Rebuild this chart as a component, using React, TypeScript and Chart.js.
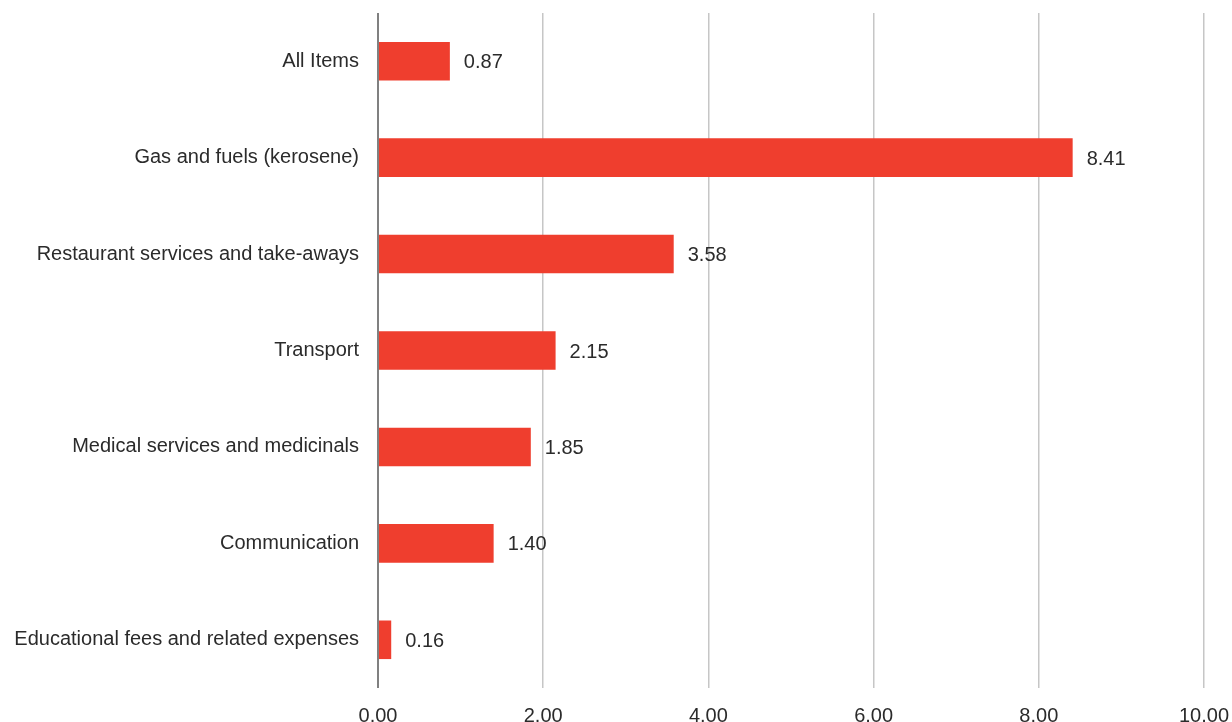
import React, { useEffect, useRef } from "react";
import { Chart, registerables } from "chart.js";

Chart.register(...registerables);

const categories = [
  "All Items",
  "Gas and fuels (kerosene)",
  "Restaurant services and take-aways",
  "Transport",
  "Medical services and medicinals",
  "Communication",
  "Educational fees and related expenses",
];
const values = [0.87, 8.41, 3.58, 2.15, 1.85, 1.4, 0.16];
const xTicks = [0, 2, 4, 6, 8, 10];

const FONT = "'Liberation Sans', Arial, sans-serif";

const valueLabels = {
  id: "valueLabels",
  afterDatasetsDraw(chart: any) {
    const ctx = chart.ctx;
    const meta = chart.getDatasetMeta(0);
    ctx.save();
    ctx.font = `20px ${FONT}`;
    ctx.fillStyle = "#2b2b2b";
    ctx.textAlign = "left";
    ctx.textBaseline = "middle";
    meta.data.forEach((bar: any, i: number) => {
      ctx.fillText(values[i].toFixed(2), bar.x + 14, bar.y + 1.5);
    });
    ctx.restore();
  },
};

export default function App() {
  const ref = useRef<HTMLCanvasElement>(null);
  useEffect(() => {
    const chart = new Chart(ref.current!, {
      type: "bar",
      data: {
        labels: categories,
        datasets: [
          {
            data: values,
            backgroundColor: "#EF3E2E",
            barPercentage: 0.8,
            categoryPercentage: 0.5,
          },
        ],
      },
      options: {
        indexAxis: "y",
        animation: false,
        responsive: true,
        maintainAspectRatio: false,
        layout: { padding: { top: 13, right: 28, left: 0, bottom: 0 } },
        plugins: { legend: { display: false }, tooltip: { enabled: false } },
        scales: {
          x: {
            min: 0,
            max: 10,
            afterBuildTicks: (axis: any) => {
              axis.ticks = xTicks.map((v) => ({ value: v }));
            },
            afterFit: (axis: any) => {
              axis.height = 34;
              axis.paddingLeft = 0;
              axis.paddingRight = 0;
            },
            border: { display: false },
            grid: {
              drawTicks: false,
              color: (c: any) => (c.tick && c.tick.value === 0 ? "#808080" : "#c6c6c6"),
              lineWidth: (c: any) => (c.tick && c.tick.value === 0 ? 2 : 1.5),
            },
            ticks: {
              padding: 16,
              color: "#2b2b2b",
              font: { family: FONT, size: 20 },
              callback: (v: any) => Number(v).toFixed(2),
              maxRotation: 0,
            },
          },
          y: {
            afterFit: (axis: any) => {
              axis.width = 378;
              axis.paddingTop = 0;
              axis.paddingBottom = 0;
            },
            border: { display: false },
            grid: { display: false, drawTicks: false },
            ticks: {
              padding: 19,
              color: "#2b2b2b",
              font: { family: FONT, size: 20 },
            },
          },
        },
      },
      plugins: [valueLabels],
    });
    return () => chart.destroy();
  }, []);
  return (
    <div style={{ position: "fixed", left: 0, top: 0, width: 1232, height: 722, background: "#fff" }}>
      <canvas ref={ref} />
    </div>
  );
}
